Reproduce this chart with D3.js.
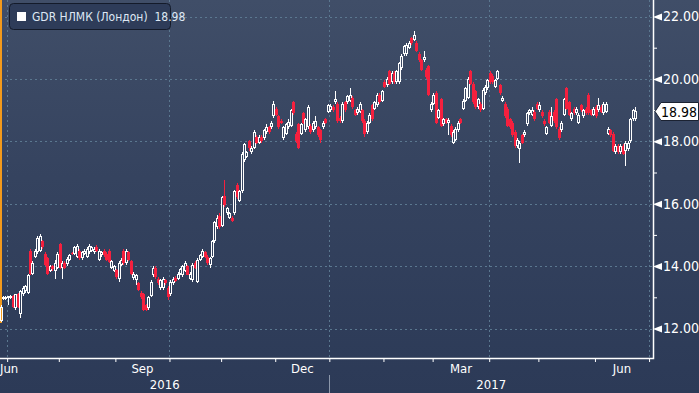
<!DOCTYPE html>
<html>
<head>
<meta charset="utf-8">
<script src="https://cdn.jsdelivr.net/npm/d3@7"></script>
<style>
  html, body { margin: 0; padding: 0; background: #2c3a57; overflow: hidden; }
  svg { display: block; }
  text { font-family: "DejaVu Sans Condensed", "Liberation Sans Narrow", "Roboto", sans-serif; }
</style>
</head>
<body>
<div id="chart"></div>
<script>
"use strict";

// серия: GDR НЛМК (Лондон), дневные свечи, торговые дни (пн-пт) начиная с 28.06.2016
var seriesName = "GDR НЛМК (Лондон)";
var lastValue = 18.98;
var firstDay = "2016-06-28";
var lastAxisDay = "2017-07-10";

var opens = [
  12.25,12.95,12.96,12.97,13.0,13.05,12.65,13.1,12.45,13.1,
  13.2,13.15,14.5,13.75,14.3,14.45,14.5,14.8,14.4,14.25,
  13.85,14.0,13.85,13.95,14.7,13.95,14.1,14.08,14.2,14.42,
  14.38,14.3,14.5,14.25,14.38,14.3,14.45,14.5,14.45,14.62,
  14.2,14.35,14.5,14.4,14.5,13.95,13.85,13.88,13.6,14.05,
  14.5,14.1,14.45,14.15,13.62,13.55,13.45,13.15,13.1,12.75,
  12.65,13.05,13.7,13.95,13.6,13.3,13.3,13.55,13.3,13.1,
  13.45,13.62,13.6,13.75,13.7,13.85,14.0,13.6,13.55,14.1,
  13.5,14.2,14.3,14.45,14.3,14.02,14.3,14.8,15.25,15.6,
  15.3,16.25,15.7,15.55,15.55,15.7,16.6,16.1,16.4,17.4,
  17.5,18.0,17.65,17.8,18.15,17.95,18.15,18.1,18.3,18.45,
  18.45,18.8,19.05,18.8,18.65,18.1,18.25,18.45,18.5,19.25,
  18.25,18.55,18.25,18.9,18.35,18.45,18.5,18.35,18.45,18.45,
  18.35,18.45,18.7,18.95,19.0,19.1,19.25,19.2,18.75,18.65,
  19.25,19.25,19.3,19.4,19.0,18.9,18.95,19.0,18.65,18.3,
  18.6,19.15,19.05,19.15,19.5,19.3,19.9,19.8,20.25,19.9,
  20.2,19.9,19.9,20.35,20.8,20.8,21.0,21.3,21.25,21.15,
  20.8,20.6,20.6,20.3,20.4,19.0,19.2,19.55,18.75,19.35,
  18.55,18.7,18.6,18.5,17.95,18.05,18.35,18.7,19.05,19.3,
  19.4,20.25,19.85,19.6,19.1,19.2,19.05,19.55,19.7,20.2,
  20.1,19.75,20.0,19.8,19.3,19.2,19.05,18.7,18.6,18.3,
  17.85,17.75,18.2,18.2,18.55,18.9,18.85,18.95,19.2,19.0,
  18.95,18.65,18.25,18.95,18.5,18.95,19.35,18.4,18.35,18.85,
  19.7,19.25,18.7,19.05,18.9,18.6,19.15,18.8,19.05,19.5,
  19.0,18.85,19.1,19.0,19.1,18.9,18.95,18.25,18.35,18.25,
  17.65,17.85,17.65,17.85,17.7,17.75,18.0,18.7,18.7
];

var closes = [
  12.7,13.02,13.0,13.03,13.04,12.7,13.1,12.7,13.2,13.3,
  13.35,13.7,13.75,14.1,14.5,14.9,14.95,14.6,14.05,13.75,
  14.0,13.9,14.1,14.4,13.95,14.1,13.95,14.22,14.35,14.38,
  14.6,14.65,14.25,14.45,14.5,14.55,14.65,14.6,14.55,14.5,
  14.5,14.45,14.35,14.2,14.12,14.15,14.0,13.65,14.1,14.2,
  14.1,14.5,14.2,13.75,13.75,13.7,13.22,13.0,12.6,12.6,
  13.0,13.5,13.95,13.65,13.45,13.55,13.6,13.45,13.0,13.5,
  13.6,13.52,13.75,13.9,14.0,14.1,13.72,13.75,14.05,13.95,
  14.2,14.35,14.5,14.28,14.1,14.25,14.8,15.4,15.55,15.25,
  16.2,15.95,15.85,15.7,15.45,16.4,16.2,16.4,17.6,17.9,
  17.65,17.78,17.8,18.3,17.95,18.15,18.0,18.35,18.45,18.3,
  18.6,19.2,18.85,18.45,18.6,18.45,18.55,18.62,19.0,18.9,
  18.0,17.8,18.55,18.6,18.7,19.1,18.3,18.6,18.65,18.2,
  18.05,18.6,18.6,19.15,19.12,19.0,19.35,18.65,18.65,19.2,
  19.0,19.45,19.5,19.1,18.85,19.05,19.2,18.65,18.25,18.6,
  18.85,18.7,19.25,19.5,19.25,19.6,19.75,20.0,19.85,20.2,
  19.9,20.25,20.5,20.75,21.05,21.1,21.15,21.15,21.4,20.9,
  20.6,20.3,20.7,20.05,19.5,19.2,19.5,18.6,19.0,18.5,
  18.7,18.6,18.68,18.2,18.3,18.4,18.6,18.6,19.3,19.7,
  20.0,19.85,19.25,19.1,19.35,19.0,19.65,19.75,19.95,19.9,
  19.9,19.95,20.25,19.55,19.4,18.8,18.5,18.45,18.2,17.85,
  18.05,17.95,17.95,18.3,18.9,19.0,19.0,18.7,19.05,19.15,
  18.8,18.55,18.45,18.6,18.8,18.65,18.45,18.1,18.6,19.35,
  19.05,18.85,18.9,18.9,19.05,18.85,19.0,19.0,18.9,18.9,
  18.85,19.05,18.8,19.15,18.95,19.2,19.2,18.4,18.2,17.7,
  17.85,17.65,17.85,17.6,17.95,17.95,18.7,19.0,18.98
];

var highs = [
  12.75,13.05,13.05,13.05,13.08,13.08,13.12,13.15,13.25,13.35,
  13.4,13.75,14.55,14.15,14.55,14.95,15.02,14.85,14.45,14.3,
  14.05,14.05,14.2,14.45,14.75,14.15,14.15,14.3,14.4,14.45,
  14.65,14.7,14.55,14.5,14.55,14.6,14.72,14.65,14.6,14.68,
  14.55,14.5,14.55,14.45,14.55,14.2,14.05,13.9,14.15,14.25,
  14.55,14.55,14.5,14.2,13.8,13.75,13.5,13.2,13.15,12.8,
  13.05,13.55,14.0,14.0,13.65,13.6,13.65,13.6,13.35,13.55,
  13.65,13.68,13.8,13.95,14.05,14.15,14.05,13.8,14.1,14.15,
  14.25,14.4,14.55,14.5,14.35,14.3,14.85,15.45,15.65,15.7,
  16.25,16.75,15.9,15.75,15.6,16.45,16.65,16.45,17.65,17.95,
  17.7,18.05,17.85,18.35,18.2,18.2,18.2,18.4,18.55,18.5,
  18.65,19.3,19.1,18.85,18.7,18.5,18.6,18.7,19.05,19.3,
  18.3,18.6,18.6,18.95,18.75,19.15,18.55,18.65,18.8,18.5,
  18.4,18.65,18.75,19.2,19.2,19.15,19.6,19.25,18.8,19.25,
  19.3,19.5,19.7,19.45,19.05,19.1,19.25,19.05,18.7,18.65,
  18.9,19.2,19.3,19.55,19.55,19.65,19.95,20.05,20.3,20.25,
  20.25,20.3,20.55,20.8,21.1,21.15,21.2,21.35,21.55,21.2,
  20.85,20.65,20.9,20.35,20.45,19.25,19.55,19.6,19.05,19.4,
  18.75,18.75,18.75,18.55,18.35,18.45,18.65,18.75,19.35,19.75,
  20.05,20.3,19.9,19.65,19.4,19.25,19.7,19.8,20.0,20.25,
  20.15,20.0,20.3,19.85,19.45,19.25,19.1,18.75,18.65,18.35,
  18.1,18.0,18.25,18.35,18.95,19.05,19.1,19.0,19.25,19.25,
  19.0,18.7,18.5,19.0,19.1,19.0,19.4,18.45,18.65,19.4,
  19.75,19.3,18.95,19.1,19.1,18.9,19.2,19.05,19.1,19.55,
  19.05,19.1,19.15,19.4,19.15,19.25,19.25,18.45,18.4,18.3,
  17.9,17.9,17.9,17.9,18.0,18.0,18.75,19.05,19.1
];

var lows = [
  12.2,12.9,12.92,12.75,12.96,12.67,12.6,12.65,12.35,13.05,
  13.15,13.1,13.7,13.7,14.25,14.4,14.45,14.55,14.0,13.7,
  13.8,13.85,13.6,13.9,13.9,13.6,13.9,14.0,14.15,14.35,
  14.35,14.25,14.2,14.2,14.35,14.25,14.4,14.45,14.4,14.45,
  14.15,14.3,14.3,14.15,14.1,13.9,13.8,13.6,13.5,14.0,
  14.05,14.05,14.15,13.7,13.55,13.4,13.2,12.95,12.55,12.55,
  12.6,13.0,13.65,13.6,13.4,13.25,13.25,13.4,12.9,13.05,
  13.4,13.48,13.55,13.7,13.65,13.8,13.7,13.55,13.5,13.9,
  13.45,14.15,14.25,14.25,14.05,13.95,14.25,14.75,15.2,15.2,
  15.25,15.9,15.65,15.5,15.4,15.65,16.15,16.05,16.35,17.35,
  17.45,17.7,17.6,17.75,17.9,17.9,17.95,18.05,18.25,18.25,
  18.4,18.75,18.8,18.4,18.55,18.05,18.2,18.4,18.45,18.85,
  17.95,17.75,18.2,18.55,18.3,18.4,18.25,18.3,18.4,18.15,
  17.95,18.4,18.55,18.9,18.95,18.95,19.2,18.6,18.6,18.6,
  18.95,19.2,19.25,19.05,18.8,18.85,18.9,18.6,18.15,18.25,
  18.55,18.65,19.0,19.1,19.2,19.25,19.7,19.75,19.8,19.85,
  19.85,19.85,19.85,20.3,20.75,20.75,20.95,21.1,21.2,20.85,
  20.55,20.25,20.55,20.0,19.45,18.95,19.15,18.55,18.7,18.45,
  18.5,18.55,18.2,18.15,17.9,18.0,18.3,18.55,19.0,19.25,
  19.35,19.8,19.2,19.05,19.05,18.95,19.0,19.5,19.65,19.85,
  19.85,19.7,19.95,19.5,19.25,18.75,18.45,18.4,18.15,17.8,
  17.8,17.3,17.9,18.15,18.5,18.85,18.8,18.65,19.0,18.95,
  18.75,18.5,18.2,18.55,18.45,18.6,18.4,18.05,18.3,18.8,
  19.0,18.8,18.65,18.85,18.85,18.55,18.95,18.75,18.85,18.85,
  18.8,18.8,18.75,18.95,18.9,18.85,18.9,18.2,18.15,17.65,
  17.6,17.6,17.6,17.55,17.2,17.7,17.95,18.65,18.65
];

var yTickValues = [12, 13, 14, 15, 16, 17, 18, 19, 20, 21, 22];
var yLabelValues = [12, 14, 16, 18, 20, 22];
var monthNames = ["Jan", "Feb", "Mar", "Apr", "May", "Jun", "Jul", "Aug", "Sep", "Oct", "Nov", "Dec"];
var labelledMonths = ["Mar", "Jun", "Sep", "Dec"];
var gridMonths = ["Jan", "Apr", "Jul", "Oct"];

var width = 699, height = 393;
var plotRight = 653;   // правая ось
var plotBottom = 358;  // нижняя ось

var svg = d3.select("#chart")
            .append("svg")
            .attr("width", width)
            .attr("height", height);

// фон
var defs = svg.append("defs");
var bg = defs.append("linearGradient")
             .attr("id", "bg")
             .attr("x1", 0).attr("y1", 0)
             .attr("x2", 0).attr("y2", 1);
bg.append("stop").attr("offset", "0%").attr("stop-color", "#404e68");
bg.append("stop").attr("offset", "45%").attr("stop-color", "#35435f");
bg.append("stop").attr("offset", "100%").attr("stop-color", "#2c3a57");

svg.append("rect")
   .attr("width", width).attr("height", height)
   .attr("fill", "url(#bg)");

// торговые дни (без выходных) для оси
var parse = d3.timeParse("%Y-%m-%d");
var days = d3.timeDay.range(parse(firstDay), parse(lastAxisDay))
             .filter(function(d) { return d.getDay() !== 0 && d.getDay() !== 6; });

var candles = closes.map(function(c, i) {
  return { i: i, date: days[i], o: opens[i], c: c, h: highs[i], l: lows[i] };
});

var x = d3.scaleLinear()
          .domain([0, 265.1])
          .range([1, plotRight]);
var y = d3.scaleLinear()
          .domain([12, 22])
          .range([328.5, 16.5]);

// границы месяцев
var monthStarts = [];
days.forEach(function(d, i) {
  if (i > 0 && d.getMonth() !== days[i - 1].getMonth()) {
    monthStarts.push({ pos: i - 0.5, date: d });
  }
});
monthStarts = monthStarts.filter(function(m) { return x(m.pos) < plotRight; });

// сетка
var grid = svg.append("g")
              .attr("stroke", "#5b7890")
              .attr("stroke-width", 1)
              .attr("stroke-dasharray", "2,3");

grid.selectAll(".h")
    .data(yLabelValues)
  .enter().append("line")
    .attr("x1", 0).attr("x2", plotRight)
    .attr("y1", function(d) { return Math.round(y(d)) + 0.5; })
    .attr("y2", function(d) { return Math.round(y(d)) + 0.5; });

grid.selectAll(".v")
    .data(monthStarts.filter(function(m) {
      return gridMonths.indexOf(monthNames[m.date.getMonth()]) >= 0;
    }))
  .enter().append("line")
    .attr("y1", 0).attr("y2", plotBottom)
    .attr("x1", function(d) { return Math.round(x(d.pos)) + 0.5; })
    .attr("x2", function(d) { return Math.round(x(d.pos)) + 0.5; });

// оранжевая метка у левого края
svg.append("rect")
   .attr("x", 0).attr("y", 0)
   .attr("width", 2).attr("height", 323)
   .attr("fill", "#f39a1c");

// свечи
var red = "#f5203e";
var gCandles = svg.append("g").attr("shape-rendering", "crispEdges");

var candle = gCandles.selectAll(".candle")
                     .data(candles)
                   .enter().append("g")
                     .attr("class", "candle");

candle.each(function(d) {
  var g = d3.select(this);
  var cx = Math.floor(x(d.i));
  var up = d.c >= d.o;
  var top = y(Math.max(d.o, d.c));
  var bottom = y(Math.min(d.o, d.c));
  var col = up ? "#ffffff" : red;

  g.append("line")
   .attr("x1", cx + 0.5).attr("x2", cx + 0.5)
   .attr("y1", y(d.h)).attr("y2", top)
   .attr("stroke", col);
  g.append("line")
   .attr("x1", cx + 0.5).attr("x2", cx + 0.5)
   .attr("y1", bottom).attr("y2", y(d.l))
   .attr("stroke", col);

  if (up) {
    g.append("rect")
     .attr("x", cx - 0.5)
     .attr("y", Math.round(top) + 0.5)
     .attr("width", 2)
     .attr("height", Math.max(1, Math.round(bottom) - Math.round(top) - 1))
     .attr("fill", "none")
     .attr("stroke", col);
  } else {
    g.append("rect")
     .attr("x", cx - 1)
     .attr("y", top)
     .attr("width", 3)
     .attr("height", Math.max(1, bottom - top))
     .attr("fill", col);
  }
});

// оси (рамка справа и снизу)
svg.append("path")
   .attr("d", "M0," + (plotBottom + 0.5) + "H" + (plotRight + 0.5) + "V0")
   .attr("fill", "none")
   .attr("stroke", "#ffffff")
   .attr("stroke-width", 1.5);

// правая ось
var yAxis = d3.axisRight(y)
              .tickValues(yTickValues)
              .tickSize(0)
              .tickPadding(10)
              .tickFormat(function(d) { return yLabelValues.indexOf(d) >= 0 ? d3.format(".2f")(d) : ""; });

var gY = svg.append("g")
            .attr("transform", "translate(" + plotRight + ",0)")
            .call(yAxis);
gY.select(".domain").remove();
gY.selectAll(".tick text")
  .attr("fill", "#ffffff")
  .attr("font-size", 14);
gY.selectAll(".tick")
  .filter(function(d) { return yLabelValues.indexOf(d) >= 0; })
  .append("path")
  .attr("d", "M0,0L9,-3.5L9,3.5Z")
  .attr("fill", "#ffffff");
gY.selectAll(".tick")
  .filter(function(d) { return yLabelValues.indexOf(d) < 0; })
  .append("line")
  .attr("x1", 0).attr("x2", 4)
  .attr("stroke", "#ffffff");

// нижняя ось: засечки месяцев
var xAxis = d3.axisBottom(x)
              .tickValues(monthStarts.map(function(m) { return m.pos; }))
              .tickSizeInner(4)
              .tickSizeOuter(0)
              .tickFormat("");
var gX = svg.append("g")
            .attr("transform", "translate(0," + plotBottom + ")")
            .call(xAxis);
gX.select(".domain").remove();
gX.selectAll(".tick line").attr("stroke", "#ffffff");

// подписи месяцев (в середине месяца)
var bounds = [x.domain()[0] - 2].concat(monthStarts.map(function(m) { return m.pos; }));
var monthLabels = svg.append("g")
                     .attr("fill", "#ffffff")
                     .attr("font-size", 13);
for (var k = 0; k < bounds.length; k++) {
  var startPos = bounds[k];
  var endPos = k + 1 < bounds.length ? bounds[k + 1] : null;
  var monthDate = k === 0 ? days[0] : monthStarts[k - 1].date;
  var name = monthNames[monthDate.getMonth()];
  if (labelledMonths.indexOf(name) < 0 || endPos === null) continue;
  var x0 = Math.max(0, x(startPos));
  var cxm = (x0 + x(endPos)) / 2;
  var t = monthLabels.append("text")
                     .attr("y", 373)
                     .text(name);
  var w = t.node().getComputedTextLength();
  t.attr("x", Math.max(0, cxm - w / 2));
}

// годы
var janTick = monthStarts.filter(function(m) { return m.date.getMonth() === 0; })[0];
var janX = Math.round(x(janTick.pos)) + 0.5;
var years = [
  { label: String(days[0].getFullYear()), from: 0, to: janX },
  { label: String(janTick.date.getFullYear()), from: janX, to: plotRight }
];
svg.append("g")
   .selectAll("text")
   .data(years)
 .enter().append("text")
   .attr("x", function(d) { return (d.from + d.to) / 2; })
   .attr("y", 389)
   .attr("text-anchor", "middle")
   .attr("fill", "#ffffff")
   .attr("font-size", 13)
   .text(function(d) { return d.label; });
svg.append("line")
   .attr("x1", janX).attr("x2", janX)
   .attr("y1", 375).attr("y2", height)
   .attr("stroke", "#8c97aa");

// метка последнего значения
var ly = Math.round(y(lastValue)) + 0.5;
svg.append("path")
   .attr("d", "M655," + ly + "L661," + (ly - 9) + "H698.5V" + (ly + 9) + "H661Z")
   .attr("fill", "#ffffff")
   .attr("stroke", "#1b2232")
   .attr("stroke-width", 1);
var lastText = svg.append("text")
   .attr("y", ly + 5)
   .attr("fill", "#000000")
   .attr("font-size", 14)
   .text(d3.format(".2f")(lastValue));
var lw = lastText.node().getComputedTextLength();
lastText.attr("x", 697 - lw);

// легенда
var legend = svg.append("g");
legend.append("rect")
      .attr("x", 9.5).attr("y", 3.5)
      .attr("width", 161).attr("height", 26)
      .attr("rx", 4)
      .attr("fill", "#2e3c59")
      .attr("stroke", "#141b2a");
legend.append("rect")
      .attr("x", 17).attr("y", 12)
      .attr("width", 9).attr("height", 9)
      .attr("fill", "#ffffff");
legend.append("text")
      .attr("x", 32).attr("y", 21)
      .attr("fill", "#dfe8f4")
      .attr("font-size", 12)
      .text(seriesName + "  " + d3.format(".2f")(lastValue))
      .attr("xml:space", "preserve")
      .style("white-space", "pre");
</script>
</body>
</html>
